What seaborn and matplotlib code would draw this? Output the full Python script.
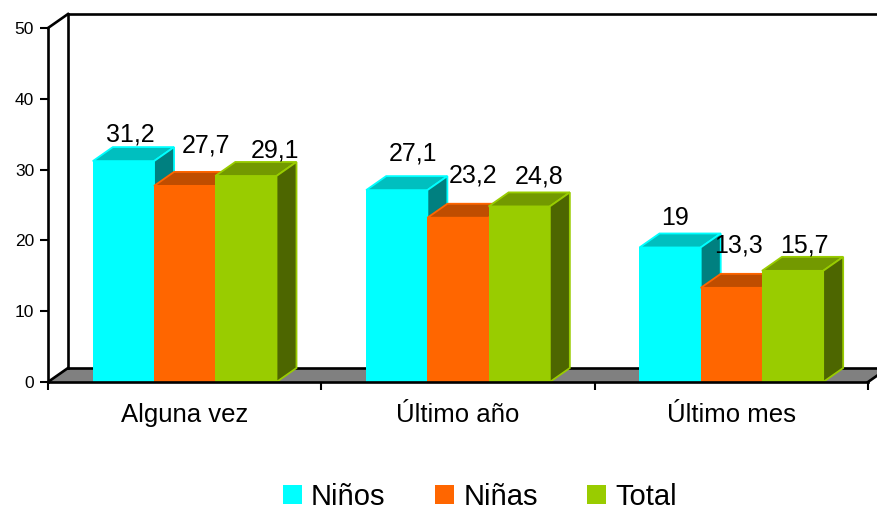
import matplotlib
matplotlib.use("Agg")
import matplotlib.pyplot as plt
from matplotlib.patches import Polygon
from matplotlib.colors import to_rgb
import pandas as pd
import seaborn as sns

periods = ["Alguna vez", "Último año", "Último mes"]
groups = ["Niños", "Niñas", "Total"]
ninos = [31.2, 27.1, 19]
ninas = [27.7, 23.2, 13.3]
total = [29.1, 24.8, 15.7]
y_ticks = [0, 10, 20, 30, 40, 50]

# Layout (pixels at 100 dpi)
W, H = 878, 508
L, R, T, B = 48, 868, 28, 382
DEPTH_X, DEPTH_Y = 20, 14
face_colors = ["#00FFFF", "#FF6600", "#99CC00"]
label_shift_x = [[7, 16, 5], [21, 15, 7], [29, 20, 12]]
label_shift_y = [[27, 37, 29], [40, 42, 42], [25, 30, 25]]

sns.set_style("white")
plt.rcParams["font.family"] = ["Liberation Sans", "DejaVu Sans"]
plt.rcParams["text.color"] = "black"

df = pd.DataFrame({
    "Periodo": periods * 3,
    "Grupo": [g for g in groups for _ in periods],
    "Valor": ninos + ninas + total,
})

fig = plt.figure(figsize=(W / 100, H / 100), dpi=100)
ax = fig.add_axes([L / W, 1 - B / H, (R - L) / W, (B - T) / H])
sns.barplot(data=df, x="Periodo", y="Valor", hue="Grupo", order=periods, hue_order=groups,
            palette=face_colors, saturation=1, width=0.672, gap=0, linewidth=0, ax=ax)
ax.set_xlim(-0.5, 2.5)
ax.set_ylim(0, 50)
ax.patch.set_alpha(0)
ax.set_xlabel("")
ax.set_ylabel("")

# depth expressed in data units
dx = DEPTH_X / ((R - L) / 3)
dy = DEPTH_Y / ((B - T) / 50)


def shade(color, factor):
    return tuple(c * factor for c in to_rgb(color))


# walls and floor
x0, x1 = -0.5, 2.5
ax.add_patch(Polygon([(x0, 0), (x0 + dx, dy), (x1 + dx, dy), (x1, 0)], closed=True,
                     facecolor="#808080", edgecolor="none", clip_on=False, zorder=0.5))
line_kw = dict(color="black", lw=1.9, clip_on=False, solid_capstyle="projecting")
ax.plot([x0 + dx, x0 + dx], [dy, 50 + dy], zorder=1, **line_kw)
ax.plot([x0 + dx, x1 + dx], [50 + dy, 50 + dy], zorder=1, **line_kw)
ax.plot([x0 + dx, x1 + dx], [dy, dy], zorder=1, **line_kw)
ax.plot([x0, x0 + dx], [50, 50 + dy], zorder=1, **line_kw)
ax.plot([x0, x0 + dx], [0, dy], zorder=1, **line_kw)
ax.plot([x1, x1 + dx], [0, dy], zorder=1, **line_kw)

# 3D faces of each bar, series by series
for i, container in enumerate(ax.containers[:3]):
    col = face_colors[i]
    z = 3 + i * 2
    for j, bar in enumerate(container.patches):
        x, w, h = bar.get_x(), bar.get_width(), bar.get_height()
        bar.set_zorder(z + 1)
        ax.add_patch(Polygon([(x, h), (x + dx, h + dy), (x + w + dx, h + dy), (x + w, h)], closed=True,
                             facecolor=shade(col, 0.75), edgecolor=col, lw=1.3, zorder=z, clip_on=False))
        ax.add_patch(Polygon([(x + w, 0), (x + w + dx, dy), (x + w + dx, h + dy), (x + w, h)], closed=True,
                             facecolor=shade(col, 0.5), edgecolor=col, lw=1.3, zorder=z, clip_on=False))
        ax.annotate(str(h).replace(".", ",").removesuffix(",0"),
                    xy=(x + w / 2, h), xytext=(label_shift_x[i][j] * 0.72, label_shift_y[i][j] * 0.72),
                    textcoords="offset points", ha="center", va="center",
                    fontsize=18, color="black", zorder=60, annotation_clip=False)

# axes
for s in ("top", "right"):
    ax.spines[s].set_visible(False)
for s in ("left", "bottom"):
    ax.spines[s].set_visible(True)
    ax.spines[s].set_color("black")
    ax.spines[s].set_linewidth(1.9)
    ax.spines[s].set_zorder(50)

ax.set_yticks(y_ticks)
ax.tick_params(axis="y", which="major", left=True, length=6, width=1.5, color="black",
               labelsize=12.5, pad=4, labelcolor="black")
ax.set_xticks([-0.5, 0.5, 1.5, 2.5])
ax.set_xticklabels([])
ax.set_xticks([0, 1, 2], minor=True)
ax.set_xticklabels(periods, minor=True)
ax.tick_params(axis="x", which="major", bottom=True, length=6, width=1.5, color="black")
ax.tick_params(axis="x", which="minor", bottom=False, length=0, labelsize=18.5, pad=15, labelcolor="black")

sns.move_legend(ax, "center", bbox_to_anchor=(480 / W, 1 - 497 / H), bbox_transform=fig.transFigure,
                ncol=3, title=None, frameon=False, fontsize=21, handlelength=0.65, handleheight=0.65,
                handletextpad=0.32, columnspacing=1.7, borderpad=0, borderaxespad=0,
                labelcolor="black")

fig.savefig("out.png", dpi=100)
